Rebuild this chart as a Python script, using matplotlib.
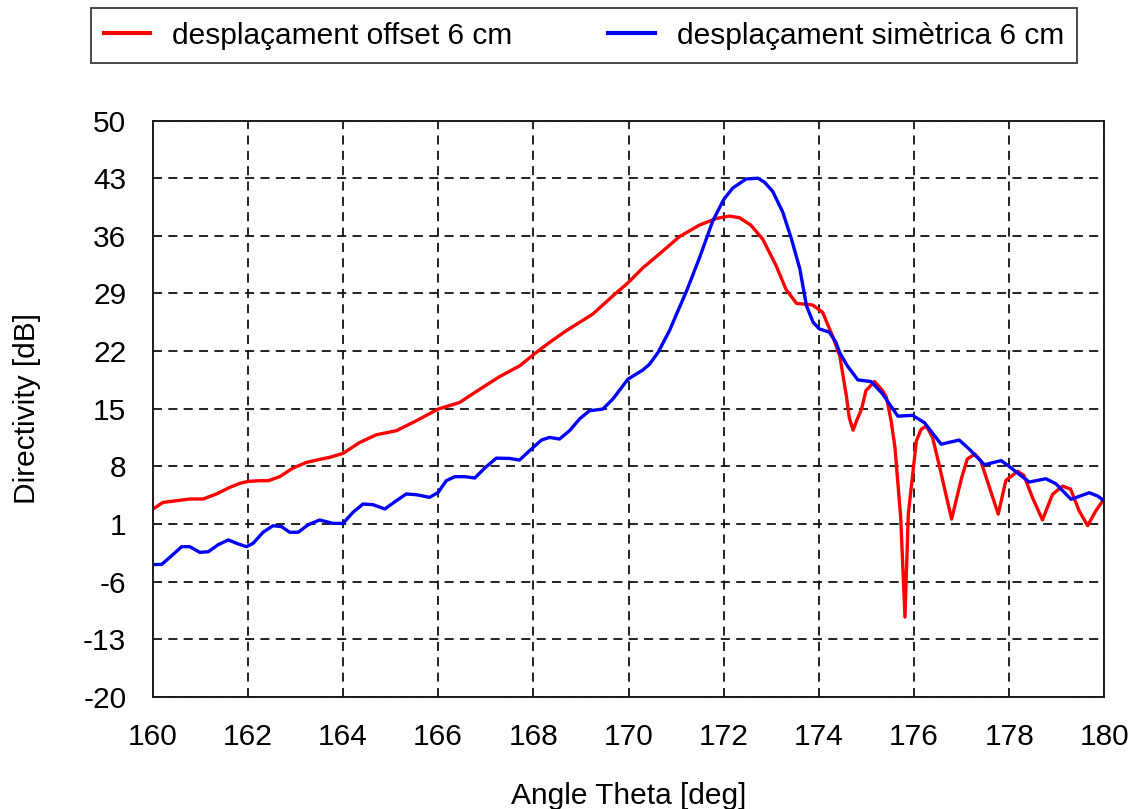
import matplotlib
matplotlib.use("Agg")
import matplotlib.pyplot as plt

# directivity cuts, angle theta in degrees vs dB
theta_offset = [160.0, 160.22, 160.5, 160.78, 161.06, 161.34, 161.62, 161.83, 162.01, 162.25,
                162.43, 162.67, 162.95, 163.23, 163.51, 163.72, 164.0, 164.35, 164.7, 165.12,
                165.54, 166.0, 166.45, 166.87, 167.29, 167.71, 168.03, 168.34, 168.69, 169.25,
                169.67, 169.99, 170.3, 170.65, 171.07, 171.49, 171.84, 172.12, 172.33, 172.57,
                172.82, 173.1, 173.31, 173.53, 173.87, 174.08, 174.29, 174.44, 174.58, 174.64,
                174.72, 174.79, 174.9, 174.99, 175.17, 175.34, 175.42, 175.52, 175.6, 175.72,
                175.81, 175.88, 176.05, 176.15, 176.26, 176.39, 176.54, 176.67, 176.79, 177.0,
                177.12, 177.28, 177.4, 177.52, 177.77, 177.93, 178.18, 178.31, 178.49, 178.7,
                178.91, 179.12, 179.29, 179.47, 179.65, 179.82, 180.0]
db_offset = [2.8, 3.63, 3.83, 4.04, 4.04, 4.65, 5.45, 5.94, 6.18, 6.26,
             6.26, 6.75, 7.8, 8.48, 8.85, 9.1, 9.58, 10.9, 11.84, 12.33,
             13.54, 14.96, 15.76, 17.35, 18.9, 20.2, 21.7, 23.05, 24.47, 26.5,
             28.7, 30.3, 32.1, 33.8, 35.9, 37.3, 38.1, 38.4, 38.2, 37.3,
             35.6, 32.4, 29.5, 27.8, 27.6, 26.7, 23.8, 21.4, 16.5, 13.9,
             12.4, 13.5, 15.0, 17.2, 18.3, 17.2, 16.4, 13.5, 10.3, 1.8,
             -10.3, 2.2, 11.1, 12.5, 12.9, 11.5, 7.9, 4.6, 1.6, 6.6,
             8.9, 9.5, 8.7, 6.6, 2.2, 6.3, 7.4, 6.9, 4.2, 1.5,
             4.6, 5.6, 5.25, 2.6, 0.8, 2.6, 4.1]

theta_sym = [160.0, 160.19, 160.36, 160.61, 160.78, 160.99, 161.17, 161.38, 161.59, 161.8,
             161.97, 162.11, 162.32, 162.53, 162.71, 162.88, 163.06, 163.27, 163.51, 163.79,
             164.0, 164.21, 164.42, 164.63, 164.88, 165.12, 165.33, 165.54, 165.82, 166.0,
             166.17, 166.35, 166.56, 166.77, 166.98, 167.22, 167.5, 167.71, 167.92, 168.17,
             168.34, 168.55, 168.76, 168.97, 169.18, 169.46, 169.67, 169.99, 170.3, 170.44,
             170.62, 170.86, 171.01, 171.22, 171.49, 171.77, 172.0, 172.19, 172.47, 172.72,
             172.86, 173.03, 173.24, 173.42, 173.6, 173.74, 173.88, 174.01, 174.22, 174.36,
             174.44, 174.6, 174.82, 175.1, 175.34, 175.66, 175.97, 176.22, 176.57, 176.95,
             177.16, 177.48, 177.83, 178.0, 178.42, 178.77, 178.98, 179.3, 179.68, 179.86,
             180.0]
db_sym = [-3.93, -3.9, -3.05, -1.75, -1.75, -2.44, -2.36, -1.5, -0.93, -1.42,
          -1.75, -1.35, 0.0, 0.8, 0.68, 0.0, 0.0, 0.92, 1.49, 1.08,
          1.08, 2.42, 3.43, 3.35, 2.83, 3.83, 4.65, 4.56, 4.24, 4.84,
          6.26, 6.75, 6.75, 6.59, 7.8, 9.0, 8.97, 8.77, 9.9, 11.2,
          11.52, 11.32, 12.33, 13.75, 14.76, 14.96, 16.18, 18.6, 19.7, 20.4,
          21.83, 24.47, 26.5, 29.3, 33.3, 37.8, 40.4, 41.8, 42.9, 43.0,
          42.5, 41.4, 38.9, 35.7, 32.0, 27.5, 25.5, 24.7, 24.3, 23.05,
          21.8, 20.2, 18.5, 18.3, 16.8, 14.1, 14.2, 13.3, 10.7, 11.2,
          10.1, 8.2, 8.7, 8.0, 6.1, 6.5, 5.9, 4.0, 4.8, 4.4,
          3.8]

x_ticks = list(range(160, 181, 2))
y_ticks = list(range(-20, 51, 7))

plt.rcParams['font.family'] = ['Liberation Sans', 'DejaVu Sans']
plt.rcParams['axes.unicode_minus'] = False
fs = 21.5

fig = plt.figure(figsize=(11.35, 8.09), dpi=100)
ax = fig.add_axes([0.1345, 0.1385, 0.8385, 0.7125])

l1, = ax.plot(theta_offset, db_offset, color='#ff0000', lw=2.4,
              label='desplaçament offset 6 cm')
l2, = ax.plot(theta_sym, db_sym, color='#0000ff', lw=2.4,
              label='desplaçament simètrica 6 cm')

ax.set_xlim(160, 180)
ax.set_ylim(-20, 50)
ax.set_xticks(x_ticks)
ax.set_yticks(y_ticks)
ax.grid(True, color='#111111', lw=1.3, ls=(0, (5, 3.5)))
ax.tick_params(direction='in', length=0, labelsize=fs, pad=19)
for s in ax.spines.values():
    s.set_linewidth(1.4)
    s.set_color('#1a1a1a')

ax.set_xlabel('Angle Theta [deg]', fontsize=fs, labelpad=22)
ax.set_ylabel('Directivity [dB]', fontsize=fs, labelpad=30)

leg = fig.legend(handles=[l1, l2], loc='upper center', ncol=2,
                 bbox_to_anchor=(0.5145, 0.990),
                 fontsize=fs, frameon=True, fancybox=False, borderaxespad=0,
                 handlelength=1.55, handletextpad=0.74, columnspacing=3.2,
                 borderpad=0.45)
leg.get_frame().set_edgecolor('#1a1a1a')
leg.get_frame().set_linewidth(1.4)
for h in leg.get_lines():
    h.set_linewidth(3.0)

fig.savefig('out.png', dpi=100)
